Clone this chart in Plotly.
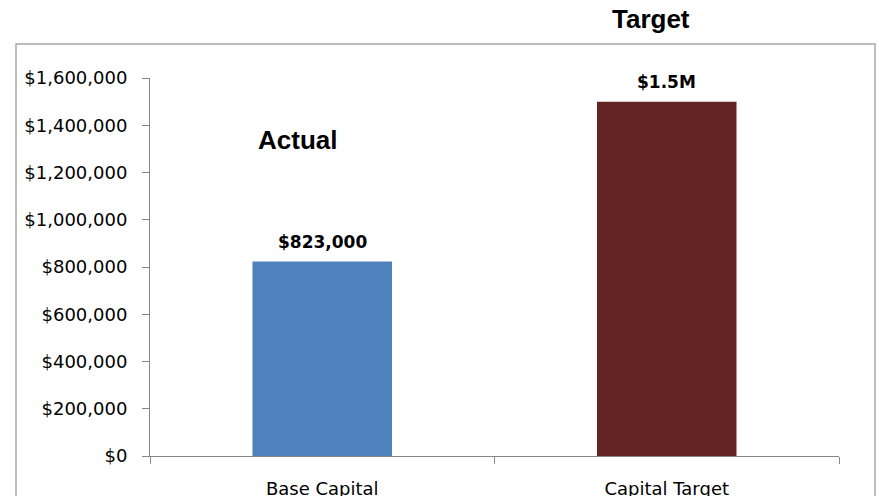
import plotly.graph_objects as go

categories = ["Base Capital", "Capital Target"]
values = [823000, 1500000]
bar_colors = ["#4F81BD", "#632523"]
value_labels = ["$823,000", "$1.5M"]
y_ticks = [0, 200000, 400000, 600000, 800000, 1000000, 1200000, 1400000, 1600000]

W, H = 879, 496
L, R, T, B = 150, 40, 78, 40
pw, ph = W - L - R, H - T - B


def px_x(v):
    return (v - L) / pw


def px_y(v):
    return (H - B - v) / ph


fig = go.Figure(
    go.Bar(
        x=categories,
        y=values,
        marker=dict(color=bar_colors, line=dict(width=0)),
        width=0.405,
        hoverinfo="skip",
    )
)

# value labels above the bars
for cat, val, lab in zip(categories, values, value_labels):
    fig.add_annotation(
        x=cat, y=val, xref="x", yref="y",
        text=f"<b>{lab}</b>", showarrow=False,
        xanchor="center", yanchor="bottom", yshift=8,
        font=dict(family="DejaVu Sans", size=17, color="#000000"),
    )

fig.update_layout(
    width=W,
    height=H,
    margin=dict(l=L, r=R, t=T, b=B, autoexpand=False),
    paper_bgcolor="white",
    plot_bgcolor="white",
    showlegend=False,
    font=dict(family="DejaVu Sans", size=18, color="#000000"),
)

fig.update_yaxes(
    range=[0, 1600000],
    tickvals=y_ticks,
    tickformat="$,.0f",
    showgrid=False,
    zeroline=False,
    showline=True,
    linecolor="#868686",
    linewidth=1,
    ticks="outside",
    ticklen=7,
    tickcolor="#868686",
    ticklabelstandoff=11,
    automargin=False,
)
fig.update_xaxes(
    showgrid=False,
    showline=True,
    linecolor="#868686",
    linewidth=1,
    ticks="outside",
    tickson="boundaries",
    ticklen=7,
    tickcolor="#868686",
    tickfont=dict(size=18),
    ticklabelstandoff=16,
    automargin=False,
)

# outer chart frame
fig.add_shape(
    type="rect", xref="paper", yref="paper",
    x0=px_x(16), x1=px_x(875),
    y0=px_y(520), y1=px_y(44),
    line=dict(color="#A6A6A6", width=1.5),
    layer="below",
)

fig.add_annotation(
    x=px_x(297), xref="paper", y=px_y(140), yref="paper",
    xanchor="center", yanchor="middle",
    text="<b>Actual</b>", showarrow=False,
    font=dict(family="Liberation Sans", size=26, color="#000000"),
)
fig.add_annotation(
    x=px_x(651), xref="paper", y=px_y(19), yref="paper",
    xanchor="center", yanchor="middle",
    text="<b>Target</b>", showarrow=False,
    font=dict(family="Liberation Sans", size=26, color="#000000"),
)

fig.write_html(
    "out.html",
    config={"displayModeBar": False},
    post_script="document.body.style.margin='0';",
)
